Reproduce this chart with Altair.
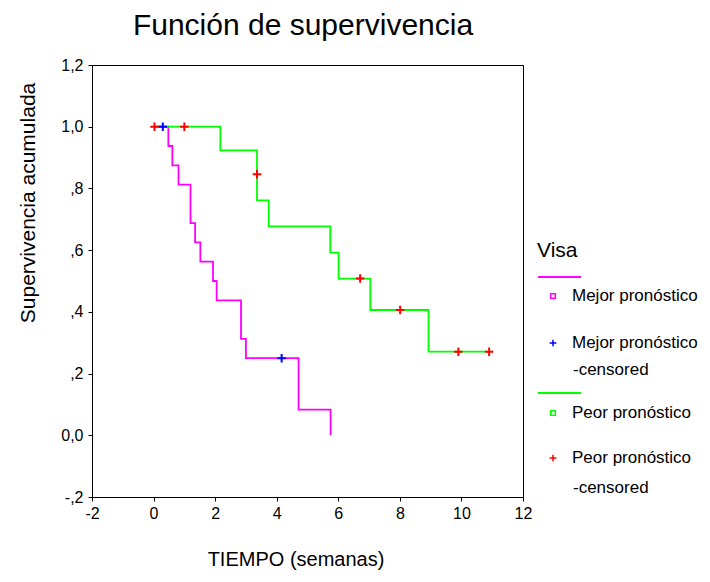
import altair as alt
import pandas as pd

# ---------------- data ----------------
title_text = "Función de supervivencia"
x_title = "TIEMPO (semanas)"
y_title = "Supervivencia acumulada"
legend_title = "Visa"
legend_labels = ["Mejor pronóstico", "Mejor pronóstico", "-censored",
                 "Peor pronóstico", "Peor pronóstico", "-censored"]

groups = ["Mejor pronóstico", "Peor pronóstico"]
group_colors = ["#FF00FF", "#00FF00"]
censor_colors = ["#0000FF", "#FF0000"]

mejor_t = [0.0, 0.48, 0.61, 0.81, 1.20, 1.35, 1.52, 1.93, 2.05, 2.84, 3.00, 4.71, 5.75]
mejor_s = [1.0, 0.9375, 0.875, 0.8125, 0.6875, 0.625, 0.5625, 0.5, 0.4375, 0.3125, 0.25, 0.0833, 0.0]
mejor_cens_t = [0.30, 4.16]
mejor_cens_s = [1.0, 0.25]

peor_t = [0.0, 2.17, 3.36, 3.74, 5.74, 6.01, 7.04, 8.93, 10.95]
peor_s = [1.0, 0.923, 0.7615, 0.677, 0.592, 0.508, 0.406, 0.271, 0.271]
peor_cens_t = [0.03, 1.0, 3.36, 6.71, 8.01, 9.90, 10.90]
peor_cens_s = [1.0, 1.0, 0.846, 0.508, 0.406, 0.271, 0.271]

x_ticks = [-2, 0, 2, 4, 6, 8, 10, 12]
y_ticks = [-0.2, 0.0, 0.2, 0.4, 0.6, 0.8, 1.0, 1.2]
y_tick_labels = ["-,2", "0,0", ",2", ",4", ",6", ",8", "1,0", "1,2"]

# ---------------- tables ----------------
lines = pd.DataFrame({
    "t": mejor_t + peor_t,
    "s": mejor_s + peor_s,
    "g": [groups[0]] * len(mejor_t) + [groups[1]] * len(peor_t),
})
cens = pd.DataFrame({
    "t": mejor_cens_t + peor_cens_t,
    "s": mejor_cens_s + peor_cens_s,
    "g": [groups[0]] * len(mejor_cens_t) + [groups[1]] * len(peor_cens_t),
})

FONT = "Liberation Sans"
W, H = 431, 432
PLUS = "M-1,0L1,0M0,-1L0,1"

ylabel_expr = ""
for v, lab in zip(y_ticks, y_tick_labels):
    ylabel_expr += f"abs(datum.value - ({v})) < 1e-6 ? '{lab}' : "
ylabel_expr += "''"

xs = alt.X("t:Q", scale=alt.Scale(domain=[-2, 12], nice=False, zero=False),
           axis=alt.Axis(values=x_ticks, labelExpr="'' + datum.value", title=None,
                         grid=False, tickSize=4, labelPadding=4, labelFontSize=16,
                         labelFont=FONT, labelColor="black", domainColor="black",
                         tickColor="black", labelFlush=False))
ys = alt.Y("s:Q", scale=alt.Scale(domain=[-0.2, 1.2], nice=False, zero=False),
           axis=alt.Axis(values=y_ticks, labelExpr=ylabel_expr, title=None,
                         grid=False, tickSize=4, labelPadding=5, labelFontSize=16,
                         labelFont=FONT, labelColor="black", domainColor="black",
                         tickColor="black", labelFlush=False))

line_layer = alt.Chart(lines).mark_line(interpolate="step-after", strokeWidth=1.8).encode(
    x=xs, y=ys,
    color=alt.Color("g:N", scale=alt.Scale(domain=groups, range=group_colors), legend=None),
    detail="g:N",
    order="t:Q",
)

cens_layer = alt.Chart(cens).mark_point(shape=PLUS, filled=False, strokeWidth=2, size=72, opacity=1).encode(
    x="t:Q", y="s:Q",
    stroke=alt.Stroke("g:N", scale=alt.Scale(domain=groups, range=censor_colors), legend=None),
)


def text_layer(txt, x, y, size, angle=0, align="left", baseline="alphabetic"):
    return alt.Chart(pd.DataFrame({"txt": [txt]})).mark_text(
        font=FONT, fontSize=size, angle=angle, align=align, baseline=baseline, color="black"
    ).encode(x=alt.value(x), y=alt.value(y), text="txt:N")


title_layer = text_layer(title_text, 211, -30, 30, align="center")
xt_layer = text_layer(x_title, 204, 501, 20, align="center")
yt_layer = text_layer(y_title, -57, 138, 21, angle=270, align="center")

# legend
one = pd.DataFrame({"k": [0]})
leg = [text_layer(legend_title, 445, 192, 21)]
leg.append(alt.Chart(one).mark_rule(color=group_colors[0], strokeWidth=1.8).encode(
    x=alt.value(446), x2=alt.value(489), y=alt.value(212)))
leg.append(alt.Chart(one).mark_point(shape="square", filled=False, color=group_colors[0],
                                     strokeWidth=1.5, size=22, opacity=1).encode(
    x=alt.value(461), y=alt.value(231)))
leg.append(text_layer(legend_labels[0], 480, 231, 17, baseline="middle"))
leg.append(alt.Chart(one).mark_point(shape=PLUS, filled=False, color=censor_colors[0],
                                     strokeWidth=1.5, size=45, opacity=1).encode(
    x=alt.value(461), y=alt.value(278)))
leg.append(text_layer(legend_labels[1], 480, 278, 17, baseline="middle"))
leg.append(text_layer(legend_labels[2], 481, 305, 17, baseline="middle"))
leg.append(alt.Chart(one).mark_rule(color=group_colors[1], strokeWidth=1.8).encode(
    x=alt.value(446), x2=alt.value(489), y=alt.value(328)))
leg.append(alt.Chart(one).mark_point(shape="square", filled=False, color=group_colors[1],
                                     strokeWidth=1.5, size=22, opacity=1).encode(
    x=alt.value(461), y=alt.value(348)))
leg.append(text_layer(legend_labels[3], 480, 348, 17, baseline="middle"))
leg.append(alt.Chart(one).mark_point(shape=PLUS, filled=False, color=censor_colors[1],
                                     strokeWidth=1.5, size=45, opacity=1).encode(
    x=alt.value(461), y=alt.value(393)))
leg.append(text_layer(legend_labels[4], 480, 393, 17, baseline="middle"))
leg.append(text_layer(legend_labels[5], 481, 423, 17, baseline="middle"))

chart = alt.layer(line_layer, cens_layer, title_layer, xt_layer, yt_layer, *leg).properties(
    width=W, height=H,
    autosize=alt.AutoSizeParams(type="none"),
    padding={"left": 84, "top": 57, "right": 179, "bottom": 77},
    background="white",
).configure_view(stroke="black", strokeWidth=1)

chart.save("out.html", embed_options={"renderer": "svg", "actions": False})
